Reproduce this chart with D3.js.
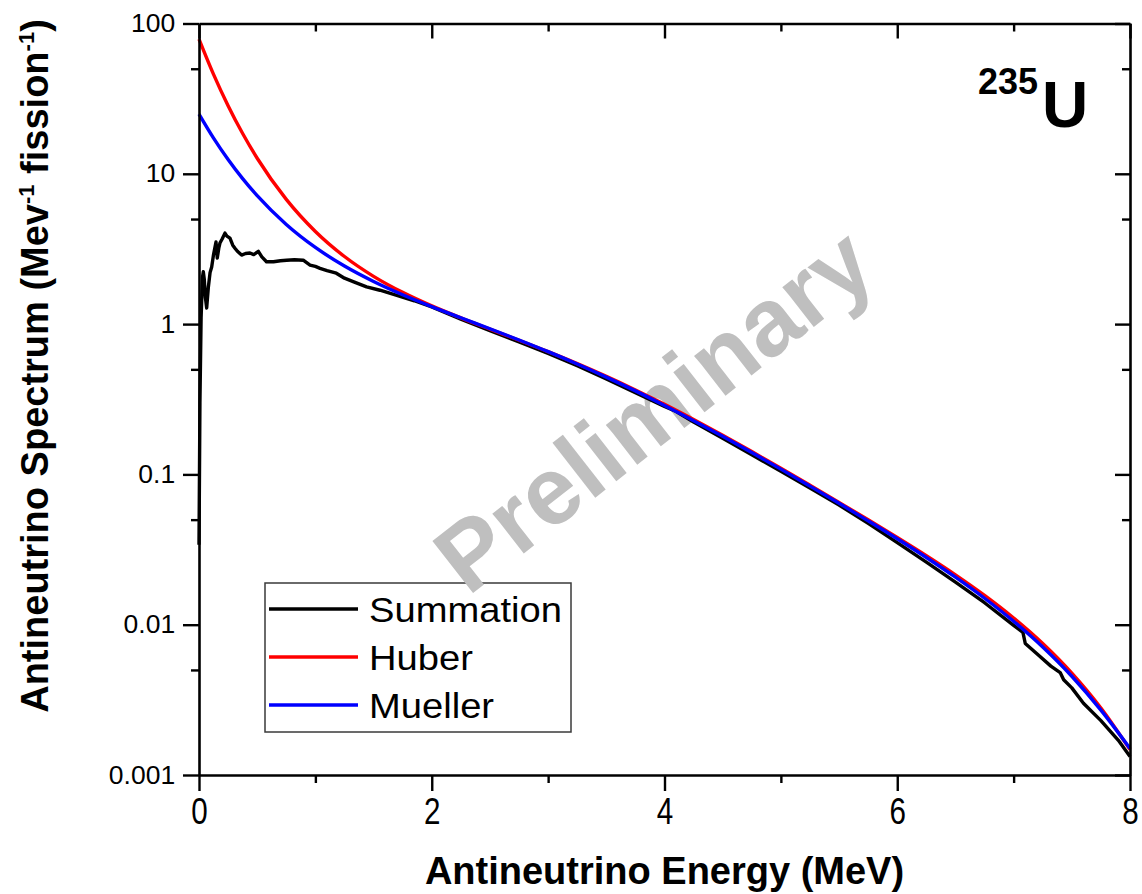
<!DOCTYPE html>
<html>
<head>
<meta charset="utf-8">
<script src="https://cdn.jsdelivr.net/npm/d3@7"></script>
<style>
  html, body { margin: 0; padding: 0; background: #ffffff; }
  svg { display: block; }
  text { font-family: "Liberation Sans", Arial, sans-serif; }
</style>
</head>
<body>
<svg id="chart" width="1142" height="894"></svg>
<script>
// ---------------- data ----------------
const modelEnergy = [0, 0.125, 0.25, 0.375, 0.5, 0.75, 1, 1.25, 1.5, 1.75, 2, 2.25, 2.5, 2.75, 3, 3.25, 3.5, 3.75, 4,
  4.25, 4.5, 4.75, 5, 5.25, 5.5, 5.75, 6, 6.25, 6.5, 6.75, 7, 7.25, 7.5, 7.75, 8];
const huberValues = [78.8, 45.9, 28.39, 18.53, 12.69, 6.76, 4.136, 2.817, 2.079, 1.626, 1.321, 1.100, 0.9257, 0.7809, 0.6558,
  0.5457, 0.4488, 0.3644, 0.2923, 0.2317, 0.1820, 0.1418, 0.1099, 0.0847, 0.0651, 0.0499, 0.0380, 0.02874, 0.02144,
  0.01565, 0.01107, 0.00749, 0.00476, 0.00279, 0.001474];
const muellerValues = [24.95, 17.27, 12.44, 9.28, 7.148, 4.601, 3.236, 2.434, 1.922, 1.569, 1.308, 1.102, 0.931, 0.784, 0.6555,
  0.5426, 0.4441, 0.3594, 0.2876, 0.2279, 0.1791, 0.1397, 0.1084, 0.0836, 0.0643, 0.0491, 0.0373, 0.0280, 0.0207,
  0.0150, 0.01054, 0.00711, 0.00454, 0.00270, 0.001500];

const summationEnergy = [0.000, 0.008, 0.018, 0.030, 0.037, 0.045, 0.055, 0.066, 0.080, 0.095, 0.109, 0.125, 0.146, 0.157,
  0.170, 0.180, 0.200, 0.223, 0.240, 0.266, 0.290, 0.309, 0.330, 0.366, 0.400, 0.438, 0.470, 0.510, 0.540, 0.580,
  0.640, 0.700, 0.753, 0.820, 0.896, 0.954, 1.000, 1.040, 1.100, 1.180, 1.250, 1.330, 1.440, 1.555, 1.700, 1.850,
  2.000, 2.25, 2.50, 2.75, 3.00, 3.25, 3.50, 3.75, 4.00, 4.10, 4.25, 4.50, 4.75, 5.00, 5.25, 5.50, 5.75, 6.00,
  6.25, 6.50, 6.75, 7.00, 7.08, 7.10, 7.20, 7.32, 7.40, 7.43, 7.50, 7.60, 7.75, 7.90, 8.00];
const summationValues = [0.034, 0.30, 1.10, 2.05, 2.23, 2.00, 1.50, 1.28, 1.75, 2.20, 2.40, 2.90, 3.52, 2.75,
  3.20, 3.46, 3.70, 4.03, 3.85, 3.73, 3.35, 3.20, 3.05, 2.88, 2.95, 2.97, 2.90, 3.05, 2.80, 2.60,
  2.60, 2.64, 2.66, 2.68, 2.66, 2.47, 2.42, 2.35, 2.27, 2.18, 2.02, 1.91, 1.77, 1.68, 1.55, 1.43,
  1.30, 1.08, 0.905, 0.76, 0.638, 0.528, 0.432, 0.350, 0.283, 0.262, 0.223, 0.174, 0.135, 0.105, 0.081, 0.0625, 0.0472, 0.0352,
  0.0261, 0.0192, 0.0140, 0.0099, 0.0089, 0.0075, 0.0064, 0.0053, 0.0048, 0.0043, 0.0038, 0.0030, 0.0023, 0.0017, 0.00133];

const xMajorTicks = [0, 2, 4, 6, 8];
const xMinorTicks = [1, 3, 5, 7];
const yMajorTicks = [0.001, 0.01, 0.1, 1, 10, 100];
const yTickLabels = ["0.001", "0.01", "0.1", "1", "10", "100"];
const yMinorTicks = [0.005, 0.05, 0.5, 5, 50];

const seriesNames = ["Summation", "Huber", "Mueller"];
const seriesColors = ["#000000", "#ff0000", "#0000ff"];

// ---------------- layout ----------------
const svg = d3.select("#chart");
const plotLeft = 199, plotRight = 1130, plotTop = 23.5, plotBottom = 775;

const x = d3.scaleLinear().domain([0, 8]).range([plotLeft, plotRight]);
const y = d3.scaleLog().domain([0.001, 100]).range([plotBottom, plotTop]);

svg.append("rect").attr("width", 1142).attr("height", 894).attr("fill", "#fff");

// ---------------- legend (under the watermark) ----------------
const legend = svg.append("g");
legend.append("rect").attr("x", 265).attr("y", 583).attr("width", 306).attr("height", 149)
  .attr("fill", "#fff").attr("stroke", "#3a3a3a").attr("stroke-width", 1.5);
seriesNames.forEach((name, i) => {
  const ly = 609 + i * 48;
  legend.append("line").attr("x1", 269).attr("x2", 358).attr("y1", ly).attr("y2", ly)
    .attr("stroke", seriesColors[i]).attr("stroke-width", 3.3);
  legend.append("text").attr("transform", `translate(369,${ly + 13}) scale(1.09,1)`)
    .attr("font-size", 35).attr("fill", "#000").text(name);
});

// ---------------- watermark ----------------
svg.append("text")
  .attr("transform", "translate(674,436) rotate(-38)")
  .attr("text-anchor", "middle")
  .attr("font-size", 96).attr("font-weight", "bold")
  .attr("fill", "#bfbfbf")
  .text("Preliminary");

// ---------------- curves ----------------
const smoothLine = d3.line().x(d => x(d[0])).y(d => y(d[1])).curve(d3.curveMonotoneX);
const rawLine = d3.line().x(d => x(d[0])).y(d => y(d[1]));

const plot = svg.append("g");
plot.append("path").datum(summationEnergy.map((e, i) => [e, summationValues[i]]))
  .attr("d", rawLine).attr("fill", "none").attr("stroke", seriesColors[0])
  .attr("stroke-width", 3.4).attr("stroke-linejoin", "round");
plot.append("path").datum(modelEnergy.map((e, i) => [e, huberValues[i]]))
  .attr("d", smoothLine).attr("fill", "none").attr("stroke", seriesColors[1]).attr("stroke-width", 3.4);
plot.append("path").datum(modelEnergy.map((e, i) => [e, muellerValues[i]]))
  .attr("d", smoothLine).attr("fill", "none").attr("stroke", seriesColors[2]).attr("stroke-width", 3.4);

// ---------------- axes ----------------
function styleAxis(g) {
  g.selectAll("path.domain").attr("stroke", "#000").attr("stroke-width", 2.6);
  g.selectAll(".tick line").attr("stroke", "#000").attr("stroke-width", 2.4);
}

// bottom
const gBottom = svg.append("g").attr("transform", `translate(0,${plotBottom})`)
  .call(d3.axisBottom(x).tickValues(xMajorTicks).tickSize(16).tickSizeOuter(0).tickPadding(7).tickFormat(d3.format("d")));
gBottom.selectAll(".tick text").attr("font-size", 37).attr("fill", "#000")
  .attr("transform", "scale(0.8,1)");
svg.append("g").attr("transform", `translate(0,${plotBottom})`)
  .call(d3.axisBottom(x).tickValues(xMinorTicks).tickSize(8).tickSizeOuter(0).tickFormat(""))
  .call(g => g.select(".domain").remove()).call(styleAxis);
styleAxis(gBottom);

// top
const gTop = svg.append("g").attr("transform", `translate(0,${plotTop})`)
  .call(d3.axisTop(x).tickValues(xMajorTicks).tickSize(-15).tickSizeOuter(0).tickFormat(""));
styleAxis(gTop);
svg.append("g").attr("transform", `translate(0,${plotTop})`)
  .call(d3.axisTop(x).tickValues(xMinorTicks).tickSize(-8).tickSizeOuter(0).tickFormat(""))
  .call(g => g.select(".domain").remove()).call(styleAxis);

// left
const gLeft = svg.append("g").attr("transform", `translate(${plotLeft},0)`)
  .call(d3.axisLeft(y).tickValues(yMajorTicks).tickSize(16).tickSizeOuter(0).tickPadding(8)
    .tickFormat((d, i) => yTickLabels[i]));
gLeft.selectAll(".tick text").attr("font-size", 25).attr("fill", "#000")
  .attr("x", -22.5).attr("transform", "scale(1.06,1)");
styleAxis(gLeft);
svg.append("g").attr("transform", `translate(${plotLeft},0)`)
  .call(d3.axisLeft(y).tickValues(yMinorTicks).tickSize(8).tickSizeOuter(0).tickFormat(""))
  .call(g => g.select(".domain").remove()).call(styleAxis);

// right
const gRight = svg.append("g").attr("transform", `translate(${plotRight},0)`)
  .call(d3.axisRight(y).tickValues(yMajorTicks).tickSize(-15).tickSizeOuter(0).tickFormat(""));
styleAxis(gRight);
svg.append("g").attr("transform", `translate(${plotRight},0)`)
  .call(d3.axisRight(y).tickValues(yMinorTicks).tickSize(-8).tickSizeOuter(0).tickFormat(""))
  .call(g => g.select(".domain").remove()).call(styleAxis);

// ---------------- titles ----------------
svg.append("text").attr("x", (plotLeft + plotRight) / 2).attr("y", 884)
  .attr("text-anchor", "middle").attr("font-size", 38).attr("font-weight", "bold")
  .text("Antineutrino Energy (MeV)");

const yTitle = svg.append("text")
  .attr("transform", "translate(48,366) rotate(-90)")
  .attr("text-anchor", "middle").attr("font-size", 38).attr("font-weight", "bold");
yTitle.append("tspan").text("Antineutrino Spectrum (Mev");
yTitle.append("tspan").attr("font-size", 22).attr("dy", -14).text("-1");
yTitle.append("tspan").attr("dy", 14).text(" fission");
yTitle.append("tspan").attr("font-size", 22).attr("dy", -14).text("-1");
yTitle.append("tspan").attr("dy", 14).text(")");

// isotope label
const iso = svg.append("text").attr("x", 978).attr("y", 127).attr("font-weight", "bold");
iso.append("tspan").attr("font-size", 36).attr("dy", -33).text("235");
iso.append("tspan").attr("font-size", 64).attr("dy", 33).attr("dx", 4).text("U");
</script>
</body>
</html>
